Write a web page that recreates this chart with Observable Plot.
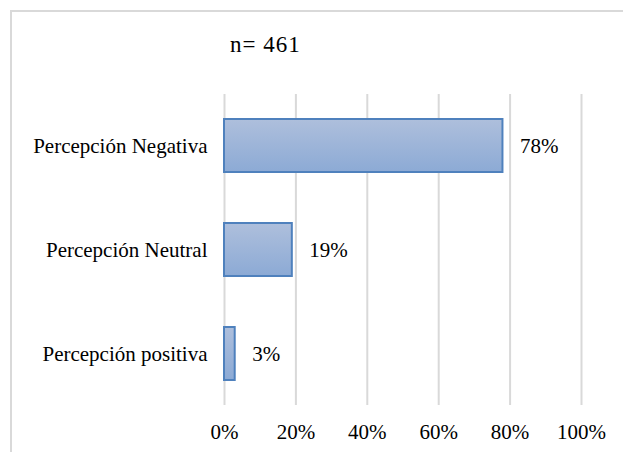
<!DOCTYPE html>
<html>
<head>
<meta charset="utf-8">
<script src="https://cdn.jsdelivr.net/npm/d3@7"></script>
<script src="https://cdn.jsdelivr.net/npm/@observablehq/plot@0.6"></script>
<style>
  body { margin: 0; background: #fff; }
  #wrap { position: relative; width: 623px; height: 452px; overflow: hidden; font-family: "Liberation Serif", "Times New Roman", serif; }
  #border { position: absolute; left: 10px; top: 10px; width: 640px; height: 470px; border: 2px solid #d9d9d9; box-sizing: border-box; }
  #title { position: absolute; left: 230px; top: 32px; font-size: 23px; color: #000; white-space: pre; letter-spacing: 1px; }
  svg { position: absolute; left: 0; top: 0; }
</style>
</head>
<body>
<div id="wrap">
  <div id="border"></div>
  <div id="title">n= 461</div>
</div>
<script>
const categories = ["Percepción Negativa", "Percepción Neutral", "Percepción positiva"];
const values = [0.78, 0.19, 0.03];
const valueLabels = ["78%", "19%", "3%"];
const xTicks = [0, 0.2, 0.4, 0.6, 0.8, 1.0];
const xTickLabels = ["0%", "20%", "40%", "60%", "80%", "100%"];

const data = categories.map((c, i) => ({category: c, value: values[i], label: valueLabels[i]}));

const chart = Plot.plot({
  width: 623,
  height: 452,
  marginLeft: 224,
  marginRight: 42,
  marginTop: 94,
  marginBottom: 47,
  style: {fontFamily: "'Liberation Serif', 'Times New Roman', serif", fontSize: "21px", color: "#000", background: "transparent", overflow: "visible"},
  x: {domain: [0, 1], ticks: xTicks, tickFormat: (d, i) => xTickLabels[xTicks.indexOf(d)], tickSize: 0, tickPadding: 19, label: null},
  y: {domain: categories, paddingInner: 0.49, paddingOuter: 0.23, tickSize: 0, tickPadding: 17, label: null},
  marks: [
    Plot.gridX(xTicks, {stroke: "#d9d9d9", strokeOpacity: 1, strokeWidth: 2}),
    Plot.barX(data, {x: "value", y: "category", fill: "url(#barGrad)", stroke: "#4f81bd", strokeWidth: 2}),
    Plot.text(data, {x: "value", y: "category", text: "label", textAnchor: "start", dx: 17, fontSize: 21, fill: "#000"}),
    Plot.axisX({ticks: xTicks, tickFormat: (d) => xTickLabels[xTicks.indexOf(d)], tickSize: 0, tickPadding: 19, fontSize: 21}),
    Plot.axisY({tickSize: 0, tickPadding: 17, fontSize: 21})
  ]
});

const defs = d3.select(chart).insert("defs", ":first-child");
const grad = defs.append("linearGradient").attr("id", "barGrad").attr("x1", 0).attr("y1", 0).attr("x2", 0).attr("y2", 1);
grad.append("stop").attr("offset", "0%").attr("stop-color", "#aebfdc");
grad.append("stop").attr("offset", "100%").attr("stop-color", "#8caad5");

document.getElementById("wrap").appendChild(chart);
</script>
</body>
</html>
